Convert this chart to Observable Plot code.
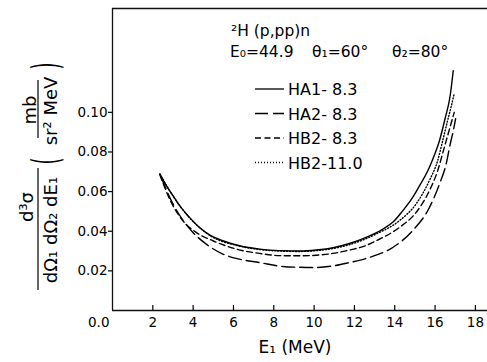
<!DOCTYPE html>
<html><head><meta charset="utf-8">
<script src="https://cdn.jsdelivr.net/npm/d3@7"></script>
<script src="https://cdn.jsdelivr.net/npm/@observablehq/plot@0.6"></script>
<style>
body{margin:0;background:#fff;}
#chart svg{font-family:"DejaVu Sans",sans-serif;}
</style></head><body><div id="chart"></div>
<script>
// HA1-8.3 (solid)
const ha1E = [2.35, 2.67, 3.0, 3.33, 3.82, 4.32, 4.81, 5.47, 6.3, 7.29, 8.3, 9.3, 10.1, 11.0, 11.75, 12.58, 13.41, 13.9, 14.4, 14.89, 15.23, 15.64, 15.89, 16.22, 16.5, 16.75, 16.9];
const ha1V = [0.0690, 0.0630, 0.0580, 0.0529, 0.0470, 0.0419, 0.0382, 0.0352, 0.0327, 0.0310, 0.0302, 0.0300, 0.0305, 0.0318, 0.0338, 0.0369, 0.0411, 0.0445, 0.0504, 0.0571, 0.0630, 0.0705, 0.0765, 0.0858, 0.0970, 0.1085, 0.1210];
// HA2-8.3 (long dash)
const ha2E = [2.4, 3.0, 3.5, 3.99, 4.65, 5.47, 6.3, 7.29, 8.45, 9.3, 10.1, 11.0, 11.75, 12.75, 13.9, 14.89, 15.72, 16.22, 16.55, 16.75, 16.9, 17.02];
const ha2V = [0.0675, 0.0538, 0.0455, 0.0394, 0.0335, 0.0285, 0.0259, 0.0242, 0.0222, 0.0218, 0.0217, 0.0226, 0.0242, 0.0268, 0.0318, 0.0403, 0.0520, 0.0639, 0.0740, 0.0840, 0.0905, 0.0968];
// HB2-8.3 (short dash)
const hb2E = [2.35, 2.91, 3.49, 4.15, 4.98, 6.14, 7.29, 8.28, 9.3, 10.1, 10.93, 11.75, 12.5, 13.08, 14.23, 15.06, 15.72, 16.13, 16.46, 16.7, 16.95];
const hb2V = [0.0685, 0.0546, 0.0453, 0.0394, 0.0352, 0.0310, 0.0288, 0.0277, 0.0276, 0.0279, 0.0288, 0.0305, 0.0325, 0.0352, 0.0419, 0.0495, 0.0605, 0.0706, 0.0824, 0.0910, 0.1000];
// HB2-11.0 (dotted)
const hb11E = [2.35, 3.0, 3.82, 4.81, 6.3, 7.29, 8.3, 9.3, 10.1, 11.0, 12.0, 13.08, 14.23, 15.06, 15.72, 16.13, 16.38, 16.6, 16.8, 16.95];
const hb11V = [0.0688, 0.0578, 0.0468, 0.0380, 0.0325, 0.0308, 0.0300, 0.0298, 0.0302, 0.0314, 0.0340, 0.0386, 0.0453, 0.0538, 0.0656, 0.0757, 0.0858, 0.0950, 0.1030, 0.1095];

const seriesNames = ["HA1- 8.3", "HA2- 8.3", "HB2- 8.3", "HB2-11.0"];
const xTicks = [2, 4, 6, 8, 10, 12, 14, 16, 18];
const yTicks = [0.02, 0.04, 0.06, 0.08, 0.10];
const xDomain = [0, 18.6];
const yDomain = [0, 0.1524];

const seriesData = [[ha1E, ha1V], [ha2E, ha2V], [hb2E, hb2V], [hb11E, hb11V]]
  .map(([es, vs], k) => es.map((e, i) => ({series: seriesNames[k], e, v: vs[i]})));
const dashes = [null, "13,5", "6,3.5", "1,2"];

const W = 487, H = 362;
const plot = Plot.plot({
  width: W, height: H,
  marginLeft: 112, marginRight: 0, marginTop: 8, marginBottom: 52,
  style: {fontFamily: "DejaVu Sans", fontSize: "13.5px", color: "#000", background: "#fff"},
  x: {domain: xDomain},
  y: {domain: yDomain},
  marks: [
    Plot.ruleX([xDomain[0]], {stroke: "#111", strokeWidth: 1.3}),
    Plot.ruleY([yDomain[0]], {stroke: "#111", strokeWidth: 1.3}),
    Plot.ruleY([yDomain[1]], {stroke: "#111", strokeWidth: 1.3}),
    Plot.axisX({ticks: xTicks, tickSize: -5, tickPadding: 12, label: null, tickFormat: d3.format("d"), strokeWidth: 1.2}),
    Plot.axisY({ticks: yTicks, tickSize: 4, tickPadding: 1, label: null, tickFormat: d3.format(".2f"), strokeWidth: 1.2}),
    Plot.text(["0.0"], {x: xDomain[0], y: yDomain[0], text: d => d, textAnchor: "end", lineAnchor: "middle", dx: -3, dy: 12, fontSize: 13.5}),
    ...seriesData.map((d, k) => Plot.line(d, {
      x: "e", y: "v", curve: "monotone-x", stroke: "#000", strokeWidth: 1.4,
      strokeDasharray: dashes[k] || undefined
    }))
  ]
});
document.getElementById("chart").appendChild(plot);

const svg = d3.select(plot);
const g = svg.append("g").attr("font-family", "DejaVu Sans").attr("fill", "#000")
  .attr("font-size", 15.5).attr("text-anchor", "start");
g.append("text").attr("x", 231).attr("y", 36).text("²H (p,pp)n");
g.append("text").attr("x", 230).attr("y", 57).text("E₀=44.9");
g.append("text").attr("x", 312).attr("y", 57).text("θ₁=60°");
g.append("text").attr("x", 392).attr("y", 57).text("θ₂=80°");

const legY = [89, 113.5, 138, 162.5];
seriesNames.forEach((name, k) => {
  g.append("line").attr("x1", 255).attr("x2", 284).attr("y1", legY[k]).attr("y2", legY[k])
    .attr("stroke", "#000").attr("stroke-width", 1.3)
    .attr("stroke-dasharray", dashes[k] || null);
  g.append("text").attr("x", 288).attr("y", legY[k] + 6).attr("font-size", 16).text(name);
});

// x-axis title
g.append("text").attr("x", 295).attr("y", 353).attr("text-anchor", "middle").attr("font-size", 17).text("E₁ (MeV)");

// y-axis title (rotated)
const yl = g.append("g").attr("transform", "rotate(-90)").attr("font-size", 18).attr("text-anchor", "middle");
yl.append("text").attr("x", -207).attr("y", 33).text("d³σ");
yl.append("line").attr("x1", -290).attr("x2", -168).attr("y1", 38).attr("y2", 38).attr("stroke", "#000").attr("stroke-width", 1.2);
yl.append("text").attr("x", -230).attr("y", 57).text("dΩ₁ dΩ₂ dE₁");
yl.append("text").attr("x", -110).attr("y", 36).text("mb");
yl.append("line").attr("x1", -138).attr("x2", -80).attr("y1", 38).attr("y2", 38).attr("stroke", "#000").attr("stroke-width", 1.2);
yl.append("text").attr("x", -111).attr("y", 57).text("sr² MeV");
yl.append("text").attr("transform", "translate(-161,46) scale(1,2.1)").attr("font-size", 18).attr("dy", "0.315em").text("(");
yl.append("text").attr("transform", "translate(-66,46) scale(1,2.1)").attr("font-size", 18).attr("dy", "0.315em").text(")");
</script>
</body></html>
